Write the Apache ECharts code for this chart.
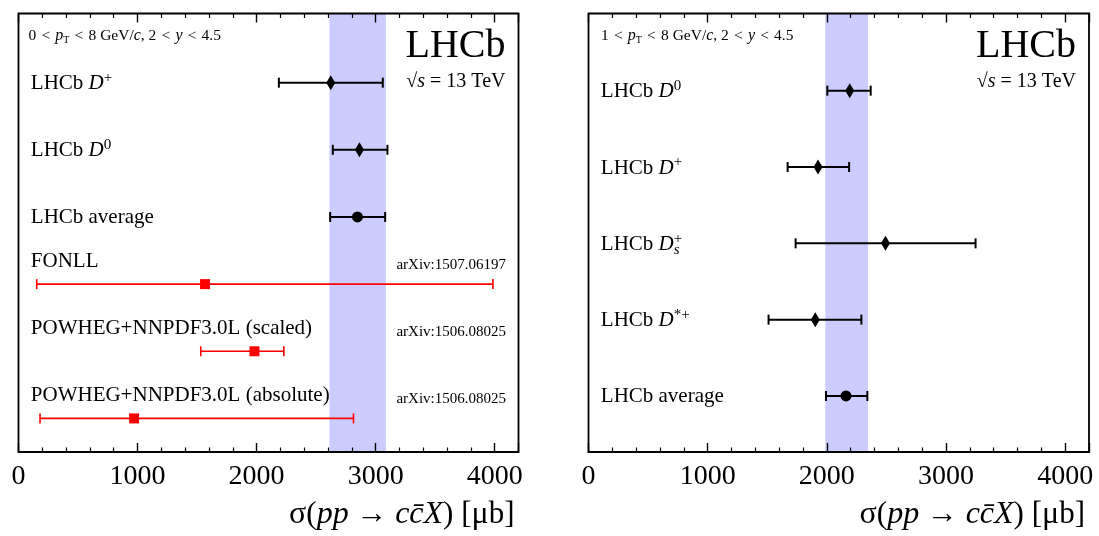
<!DOCTYPE html>
<html>
<head>
<meta charset="utf-8">
<script src="https://cdn.jsdelivr.net/npm/echarts@6/dist/echarts.min.js"></script>
<style>html,body{margin:0;padding:0;background:#fff;}#c{width:1099px;height:536px;}</style>
</head>
<body>
<div id="c"></div>
<script>
// ---------- data ----------
const xTicks = [0, 1000, 2000, 3000, 4000];

const leftLabels = ['LHCb {i|D}{sup|+}', 'LHCb {i|D}{sup|0}', 'LHCb average', 'FONLL',
  'POWHEG+NNPDF3.0L (scaled)', 'POWHEG+NNPDF3.0L (absolute)'];
const leftType = ['meas', 'meas', 'avg', 'theory', 'theory', 'theory'];
const leftRefs = ['', '', '', 'arXiv:1507.06197', 'arXiv:1506.08025', 'arXiv:1506.08025'];
const leftValues = [2623, 2864, 2847, 1567, 1982, 971];
const leftLow = [2187, 2640, 2618, 153, 1531, 181];
const leftHigh = [3060, 3099, 3080, 3985, 2229, 2814];
const leftBand = [2612, 3086];
const leftCut = '0\u2004<\u2004{i|p}{sub|T}\u2004<\u20048 GeV/{i|c}, 2\u2004<\u2004{i|y}\u2004<\u20044.5';

const rightLabels = ['LHCb {i|D}{sup|0}', 'LHCb {i|D}{sup|+}', 'LHCb {i|D}{subz|s}{sup|+}',
  'LHCb {i|D}{sup|*+}', 'LHCb average'];
const rightType = ['meas', 'meas', 'meas', 'meas', 'avg'];
const rightValues = [2192, 1926, 2492, 1903, 2161];
const rightLow = [2004, 1671, 1738, 1511, 1993];
const rightHigh = [2368, 2187, 3248, 2290, 2340];
const rightBand = [1987, 2346];
const rightCut = '1\u2004<\u2004{i|p}{sub|T}\u2004<\u20048 GeV/{i|c}, 2\u2004<\u2004{i|y}\u2004<\u20044.5';

const xTitle = '{g|σ}({i|pp} → {i|c}{i|c\u0304}{i|X}) [{g|μ}b]';

// ---------- layout / style ----------
const FONT = '"Liberation Serif", "DejaVu Serif", serif';
const XMAX = 4200;
const layouts = [
  { left: 18.5, right: 580.5, yOff: 0.5, yMax: 6.53 },
  { left: 588.5, right: 10, yOff: 0.734, yMax: 5.745 }
];
const TOP = 13.5, BOTTOM = 84;

const rich = {
  i: { fontFamily: FONT, fontStyle: 'italic', fontSize: 21, fill: '#000', lineHeight: 26 },
  sup: { fontFamily: FONT, fontSize: 15, fill: '#000', verticalAlign: 'top', lineHeight: 11 },
  sub: { fontFamily: FONT, fontSize: 14, fill: '#000', verticalAlign: 'bottom', lineHeight: 12 },
  subz: { fontFamily: FONT, fontStyle: 'italic', fontSize: 15, fill: '#000', verticalAlign: 'bottom', lineHeight: 8, width: 0 },
  g: { fontFamily: FONT, fontSize: 21, fill: '#000', lineHeight: 26 }
};
function scaledRich(f) {
  const r = {};
  for (const k in rich) {
    r[k] = Object.assign({}, rich[k], {
      fontSize: Math.round(rich[k].fontSize * f),
      lineHeight: Math.round(rich[k].lineHeight * f)
    });
    if (rich[k].width === 0) r[k].width = 0;
  }
  return r;
}

function makeGrid(i) {
  const L = layouts[i];
  return { left: L.left, right: L.right, top: TOP, bottom: BOTTOM, show: true,
    borderColor: '#000', borderWidth: 1.8, backgroundColor: 'transparent', z: 2 };
}
function makeX(gi, pos) {
  return {
    type: 'value', gridIndex: gi, position: pos, min: 0, max: XMAX, interval: 1000, z: 5,
    axisLine: { show: false },
    axisTick: { show: true, inside: true, length: 9, lineStyle: { color: '#000', width: 1.4 } },
    minorTick: { show: true, splitNumber: 5, length: 4.5, lineStyle: { color: '#000', width: 1.2 } },
    splitLine: { show: false },
    axisLabel: {
      show: pos === 'bottom', margin: 11, fontFamily: FONT, fontSize: 28, color: '#000',
      showMaxLabel: false,
      formatter: v => (xTicks.indexOf(v) >= 0 ? String(v) : '')
    }
  };
}
function makeY(gi) {
  return { type: 'value', gridIndex: gi, min: 0, max: layouts[gi].yMax, show: false,
    splitLine: { show: false } };
}

function errSeries(gi, labels, types, vals, lows, highs, refs) {
  const n = vals.length;
  const data = vals.map((v, i) => [v, lows[i], highs[i], (n - 1 - i) + layouts[gi].yOff]);
  return {
    type: 'custom', xAxisIndex: gi * 2, yAxisIndex: gi, z: 3, clip: false,
    data: data, encode: { x: [0, 1, 2], y: 3 },
    renderItem: function (params, api) {
      const i = params.dataIndex;
      const yv = api.value(3);
      const pc = api.coord([api.value(0), yv]);
      const pl = api.coord([api.value(1), yv]);
      const ph = api.coord([api.value(2), yv]);
      const cs = params.coordSys;
      const t = types[i];
      const color = t === 'theory' ? '#ff0000' : '#000';
      const lw = t === 'theory' ? 1.6 : 2;
      const ch = [];
      ch.push({ type: 'line', shape: { x1: pl[0], y1: pl[1], x2: ph[0], y2: ph[1] }, style: { stroke: color, lineWidth: lw } });
      ch.push({ type: 'line', shape: { x1: pl[0], y1: pl[1] - 5, x2: pl[0], y2: pl[1] + 5 }, style: { stroke: color, lineWidth: lw } });
      ch.push({ type: 'line', shape: { x1: ph[0], y1: ph[1] - 5, x2: ph[0], y2: ph[1] + 5 }, style: { stroke: color, lineWidth: lw } });
      if (t === 'meas') {
        ch.push({ type: 'polygon', shape: { points: [[pc[0], pc[1] - 7.5], [pc[0] + 4.5, pc[1]], [pc[0], pc[1] + 7.5], [pc[0] - 4.5, pc[1]]] }, style: { fill: '#000' } });
      } else if (t === 'avg') {
        ch.push({ type: 'circle', shape: { cx: pc[0], cy: pc[1], r: 5.5 }, style: { fill: '#000' } });
      } else {
        ch.push({ type: 'rect', shape: { x: pc[0] - 5, y: pc[1] - 5, width: 10, height: 10 }, style: { fill: '#ff0000' } });
      }
      const ly = t === 'theory' ? pc[1] - 23 : pc[1] + 1;
      ch.push({ type: 'text', x: cs.x + 12.3, y: ly, style: {
        text: labels[i], rich: rich, fontFamily: FONT, fontSize: 21, fill: '#000',
        textAlign: 'left', textVerticalAlign: 'middle', lineHeight: 26 } });
      if (refs && refs[i]) {
        ch.push({ type: 'text', x: cs.x + cs.width - 12.5, y: pc[1] - 19, style: {
          text: refs[i], fontFamily: FONT, fontSize: 15, fill: '#000',
          textAlign: 'right', textVerticalAlign: 'middle' } });
      }
      return { type: 'group', children: ch };
    }
  };
}

function bandSeries(gi, band) {
  return {
    type: 'custom', xAxisIndex: gi * 2, yAxisIndex: gi, z: 1, clip: false,
    data: [[band[0], band[1], 0]], encode: { x: [0, 1], y: 2 },
    renderItem: function (params, api) {
      const cs = params.coordSys;
      const a = api.coord([api.value(0), 0])[0];
      const b = api.coord([api.value(1), 0])[0];
      return { type: 'rect', shape: { x: a, y: cs.y, width: b - a, height: cs.height },
        style: { fill: '#ccccff' } };
    }
  };
}

function panelTexts(gi, cut) {
  const L = layouts[gi];
  const x0 = L.left;
  const xr = gi === 0 ? L.left + 500 : 1099 - L.right;
  const sr = scaledRich(0.74);
  return [
    { type: 'text', left: x0 + (gi === 0 ? 10 : 12.5), top: 28, z: 10,
      style: { text: cut, rich: sr, fontFamily: FONT, fontSize: 15.5, fill: '#000' } },
    { type: 'text', right: 1099 - (xr - 13), top: 26, z: 10,
      style: { text: 'LHCb', fontFamily: FONT, fontSize: 40, fill: '#000', textAlign: 'right' } },
    { type: 'text', right: 1099 - (xr - 13), top: 72, z: 10,
      style: { text: '√{i|s} = 13 TeV', rich: scaledRich(0.95), fontFamily: FONT, fontSize: 20, fill: '#000', textAlign: 'right' } },
    { type: 'text', right: 1099 - (xr - 4), top: 499, z: 10,
      style: { text: xTitle, rich: scaledRich(1.5), fontFamily: FONT, fontSize: 31, fill: '#000', textAlign: 'right' } }
  ];
}

const chart = echarts.init(document.getElementById('c'), null, { renderer: 'canvas' });
chart.setOption({
  animation: false,
  backgroundColor: '#fff',
  grid: [makeGrid(0), makeGrid(1)],
  xAxis: [makeX(0, 'bottom'), makeX(0, 'top'), makeX(1, 'bottom'), makeX(1, 'top')],
  yAxis: [makeY(0), makeY(1)],
  series: [
    bandSeries(0, leftBand),
    errSeries(0, leftLabels, leftType, leftValues, leftLow, leftHigh, leftRefs),
    bandSeries(1, rightBand),
    errSeries(1, rightLabels, rightType, rightValues, rightLow, rightHigh, null)
  ],
  graphic: [].concat(panelTexts(0, leftCut), panelTexts(1, rightCut))
});
</script>
</body>
</html>
